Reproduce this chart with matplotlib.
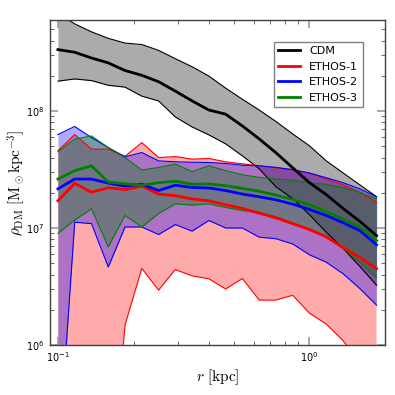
import matplotlib
matplotlib.use("Agg")
import matplotlib.pyplot as plt

plt.rcParams['mathtext.fontset'] = 'cm'
plt.rcParams['font.family'] = 'DejaVu Sans'

# radial bins in kpc
radius = [0.100, 0.1166, 0.1360, 0.1586, 0.1849, 0.2156, 0.2514, 0.2931, 0.3418, 0.3985,
          0.4647, 0.5418, 0.6318, 0.7367, 0.859, 1.0017, 1.168, 1.362, 1.588, 1.852]

# CDM density profile: median and spread (Msun/kpc^3)
cdm_med = [3.35e8, 3.18e8, 2.84e8, 2.58e8, 2.22e8, 2.02e8, 1.78e8, 1.48e8, 1.22e8, 1.02e8,
           9.4e7, 7.45e7, 5.78e7, 4.40e7, 3.27e7, 2.44e7, 1.93e7, 1.47e7, 1.14e7, 8.6e6]
cdm_hi = [6.83e8, 5.56e8, 4.75e8, 4.18e8, 3.81e8, 3.70e8, 3.30e8, 2.80e8, 2.39e8, 1.99e8,
          1.57e8, 1.26e8, 1.02e8, 8.14e7, 6.37e7, 5.04e7, 3.75e7, 2.96e7, 2.34e7, 1.85e7]
cdm_lo = [1.80e8, 1.88e8, 1.82e8, 1.66e8, 1.60e8, 1.34e8, 1.22e8, 8.89e7, 7.31e7, 6.25e7,
          5.24e7, 4.14e7, 3.21e7, 2.25e7, 1.78e7, 1.30e7, 9.2e6, 6.7e6, 4.7e6, 3.24e6]

# ETHOS-1
e1_med = [1.71e7, 2.41e7, 2.02e7, 2.21e7, 2.13e7, 2.28e7, 1.95e7, 1.89e7, 1.77e7, 1.71e7,
          1.58e7, 1.47e7, 1.34e7, 1.22e7, 1.09e7, 9.7e6, 8.4e6, 6.8e6, 5.6e6, 4.5e6]
e1_hi = [4.57e7, 6.3e7, 4.72e7, 4.72e7, 4.10e7, 5.37e7, 4.0e7, 4.08e7, 3.88e7, 3.93e7,
         3.68e7, 3.54e7, 3.40e7, 3.27e7, 3.15e7, 2.94e7, 2.64e7, 2.34e7, 2.02e7, 1.66e7]
e1_lo = [1e4, 1e4, 1e4, 3e4, 1.48e6, 4.52e6, 2.94e6, 4.41e6, 3.90e6, 3.68e6,
         3.01e6, 3.70e6, 2.42e6, 2.42e6, 2.66e6, 1.87e6, 1.51e6, 1.09e6, 7e5, 4e5]

# ETHOS-2
e2_med = [2.16e7, 2.62e7, 2.62e7, 2.42e7, 2.28e7, 2.37e7, 2.09e7, 2.32e7, 2.22e7, 2.20e7,
          2.09e7, 1.95e7, 1.85e7, 1.74e7, 1.60e7, 1.44e7, 1.28e7, 1.11e7, 9.5e6, 7.2e6]
e2_hi = [6.29e7, 7.38e7, 5.93e7, 4.87e7, 4.06e7, 4.42e7, 3.75e7, 3.68e7, 3.65e7, 3.63e7,
         3.56e7, 3.44e7, 3.40e7, 3.30e7, 3.15e7, 2.95e7, 2.69e7, 2.44e7, 2.16e7, 1.85e7]
e2_lo = [9e4, 1.12e7, 1.09e7, 4.64e6, 1.02e7, 1.02e7, 8.8e6, 1.07e7, 9.4e6, 1.16e7,
         1.00e7, 1.00e7, 8.35e6, 8.1e6, 7.3e6, 5.9e6, 5.1e6, 4.07e6, 3.04e6, 2.19e6]

# ETHOS-3
e3_med = [2.62e7, 3.09e7, 3.40e7, 2.47e7, 2.39e7, 2.32e7, 2.44e7, 2.51e7, 2.37e7, 2.38e7,
          2.30e7, 2.18e7, 2.06e7, 1.91e7, 1.75e7, 1.58e7, 1.38e7, 1.19e7, 1.02e7, 7.8e6]
e3_hi = [4.48e7, 5.74e7, 6.12e7, 4.87e7, 4.0e7, 3.13e7, 3.29e7, 3.52e7, 3.03e7, 3.40e7,
         3.09e7, 2.85e7, 2.71e7, 2.62e7, 2.56e7, 2.44e7, 2.36e7, 2.21e7, 2.02e7, 1.77e7]
e3_lo = [8.98e6, 1.17e7, 1.46e7, 6.9e6, 1.28e7, 1.02e7, 1.33e7, 1.61e7, 1.57e7, 1.61e7,
         1.50e7, 1.41e7, 1.36e7, 1.25e7, 1.11e7, 9.7e6, 8.6e6, 6.7e6, 5.1e6, 3.75e6]

models = [("CDM", "k", cdm_med, cdm_lo, cdm_hi),
          ("ETHOS-1", "r", e1_med, e1_lo, e1_hi),
          ("ETHOS-2", "b", e2_med, e2_lo, e2_hi),
          ("ETHOS-3", "g", e3_med, e3_lo, e3_hi)]

fig = plt.figure(figsize=(3.95, 3.95), dpi=100)
ax = fig.add_axes([0.1266, 0.1266, 0.848, 0.8228])

# shaded scatter first, lines on top
for name, col, med, lo, hi in models:
    ax.fill_between(radius, lo, hi, color=col, alpha=0.33, lw=0, zorder=1)

for name, col, med, lo, hi in models:
    ax.plot(radius, lo, color=col, lw=0.8, zorder=2)
    ax.plot(radius, hi, color=col, lw=0.8, zorder=2)
    ax.plot(radius, med, color=col, lw=2, label=name, zorder=3)

ax.set_xscale('log')
ax.set_yscale('log')
ax.set_xlim(0.093, 2.0)
ax.set_ylim(1e6, 6e8)

ax.set_xlabel(r'$r\ [\mathrm{kpc}]$', fontsize=11, labelpad=2)
ax.set_ylabel(r'$\rho_{\rm DM}\ [\mathrm{M}_\odot \mathrm{kpc}^{-3}]$', fontsize=11)
ax.yaxis.set_label_coords(-0.068, 0.5)

ax.tick_params(which='both', direction='in', top=True, right=True)
ax.tick_params(which='major', length=6, width=1.2, color='0.6', labelsize=7, pad=4)
ax.tick_params(which='minor', length=3, width=0.6, color='0.3')
for sp in ax.spines.values():
    sp.set_color('0.25')
    sp.set_linewidth(1)

leg = ax.legend(loc='upper right', bbox_to_anchor=(0.934, 0.933), borderaxespad=0,
                fontsize=8, handlelength=2.0, labelspacing=0.5, fancybox=False,
                framealpha=1, edgecolor='0.5')
leg.get_frame().set_linewidth(1)

fig.savefig('out.png', dpi=100)
